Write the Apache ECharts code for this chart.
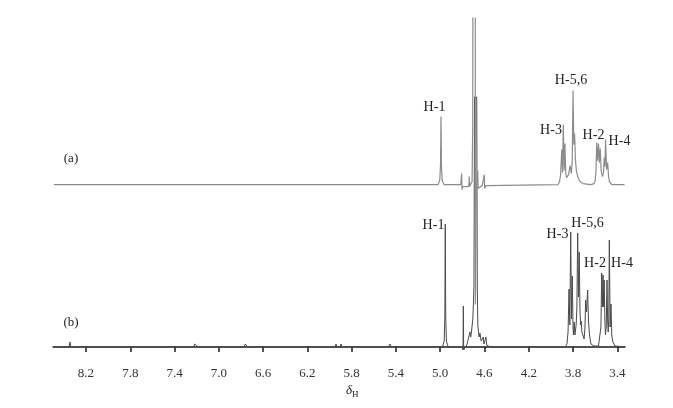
<!DOCTYPE html>
<html>
<head>
<meta charset="utf-8">
<script src="https://cdn.jsdelivr.net/npm/echarts@6/dist/echarts.min.js"></script>
<style>
    html, body { margin: 0; padding: 0; background: #fff; }
    #chart { width: 673px; height: 408px; }
</style>
</head>
<body>
<div id="chart"></div>
<script>
// chemical shift (ppm) and intensity, trace (a)
const specA_ppm = [8.49, 5.020, 5.004, 4.997, 4.993, 4.989, 4.982, 4.966,
    4.815, 4.809, 4.806, 4.803, 4.796, 4.745, 4.740, 4.737, 4.734, 4.718,
    4.712, 4.706, 4.703, 4.684, 4.682, 4.678, 4.672, 4.664, 4.661, 4.657,
    4.620, 4.605, 4.602, 4.598, 4.588, 4.570,
    3.935, 3.922, 3.912, 3.902, 3.895, 3.888, 3.880, 3.873, 3.866, 3.858,
    3.840, 3.827, 3.815, 3.807, 3.800, 3.793, 3.786, 3.778, 3.770, 3.755, 3.737, 3.710,
    3.640, 3.610, 3.600, 3.592, 3.586, 3.578, 3.570, 3.562, 3.554, 3.546, 3.534,
    3.525, 3.518, 3.512, 3.506, 3.497, 3.487, 3.479, 3.471, 3.450, 3.335];
const specA_int = [0, 0, 4, 20, 68, 20, 4, 0,
    0, 2, 11, -5, -2, -2, 1, 8, -2, 0,
    3, 60, 400, 400, -120, -40, 2, 3, 14, -4,
    -1, 1, 10, -4, -1, 0,
    0, 3, 10, 35, 12, 60, 14, 41, 12, 7,
    10, 19, 11, 25, 94, 40, 51, 25, 14, 7, 3, 1,
    0, 1, 4, 15, 42, 24, 41, 22, 36, 14, 8,
    12, 27, 18, 45, 15, 22, 8, 3, 0, 0];

// trace (b)
const specB_ppm = [8.49, 8.352, 8.345, 8.338, 7.228, 7.218, 7.210, 7.200, 7.190,
    6.772, 6.762, 6.755, 6.747, 6.738, 5.950, 5.941, 5.932, 5.905, 5.896, 5.887,
    5.468, 5.454, 5.440,
    4.980, 4.964, 4.958, 4.954, 4.950, 4.944, 4.928,
    4.800, 4.794, 4.791, 4.788, 4.775, 4.760, 4.745, 4.731, 4.724, 4.716, 4.705,
    4.695, 4.690, 4.670, 4.665, 4.660, 4.656, 4.648, 4.641, 4.630, 4.618, 4.611,
    4.605, 4.592, 4.587, 4.580, 4.550,
    3.870, 3.855, 3.845, 3.836, 3.829, 3.821, 3.814, 3.807, 3.800, 3.796, 3.789, 3.783,
    3.772, 3.765, 3.758, 3.751, 3.744, 3.737, 3.731, 3.727, 3.720, 3.714, 3.700,
    3.692, 3.686, 3.678, 3.668, 3.660, 3.651, 3.638, 3.611,
    3.570, 3.556, 3.548, 3.541, 3.535, 3.529, 3.524, 3.518, 3.512, 3.507,
    3.500, 3.493, 3.487, 3.482, 3.477, 3.472, 3.465, 3.457, 3.450, 3.443, 3.421, 3.335];
const specB_int = [0, 0, 5, 0, 0, 3, 5, 3, 0,
    0, 3, 5, 2, 0, 0, 3, 0, 0, 3, 0,
    0, 3, 0,
    0, 6, 30, 123, 30, 6, 0,
    0, -3, 41, -3, -2, 2, 4, 15, 10, 17, 28,
    60, 250, 250, 60, 22, 17, 10, 14, 6, 5, 10,
    3, 4, 10, 2, 0,
    0, 3, 15, 58, 22, 115, 28, 71, 20, 12, 25, 12,
    22, 40, 114, 50, 95, 35, 22, 26, 15, 17, 8,
    20, 47, 35, 57, 25, 12, 3, 1,
    1, 3, 20, 74, 40, 72, 40, 67, 25, 12,
    20, 67, 25, 15, 30, 107, 20, 43, 12, 6, 1, 0];

const tickLabels = [8.2, 7.8, 7.4, 7.0, 6.6, 6.2, 5.8, 5.4, 5.0, 4.6, 4.2, 3.8, 3.4];
const peakLabels = ['H-1', 'H-3', 'H-5,6', 'H-2', 'H-4'];
const traceNames = ['(a)', '(b)'];

// vertical offset of trace (a) above trace (b)
const offsetA = 162.4;

const chart = echarts.init(document.getElementById('chart'));

function pairs(ppm, inten, shift) {
    return ppm.map((p, i) => [p, inten[i] + shift]);
}

const serif = '"Liberation Serif", "DejaVu Serif", serif';

// label anchors (pixel centres) for the peak names
const labelPosA = [[434.5, 107], [551, 130], [571, 80], [593.5, 135], [619.5, 141.5]];
const labelPosB = [[433.5, 225.5], [557.5, 234], [587.5, 223], [595, 263], [622, 263]];

const graphics = [];
peakLabels.forEach((t, i) => {
    graphics.push({type: 'text', x: labelPosA[i][0], y: labelPosA[i][1],
        style: {text: t, font: '14px ' + serif, fill: '#222', align: 'center', verticalAlign: 'middle'}});
    graphics.push({type: 'text', x: labelPosB[i][0], y: labelPosB[i][1],
        style: {text: t, font: '14px ' + serif, fill: '#222', align: 'center', verticalAlign: 'middle'}});
});
graphics.push({type: 'text', x: 71, y: 159,
    style: {text: traceNames[0], font: '13px ' + serif, fill: '#222', align: 'center', verticalAlign: 'middle'}});
graphics.push({type: 'text', x: 71, y: 322.5,
    style: {text: traceNames[1], font: '13px ' + serif, fill: '#222', align: 'center', verticalAlign: 'middle'}});
graphics.push({type: 'text', x: 346, y: 391,
    style: {
        text: '{d|δ}{s|H}',
        verticalAlign: 'middle',
        rich: {
            d: {font: 'italic 13px ' + serif, fill: '#222'},
            s: {font: '9px ' + serif, fill: '#222', padding: [7, 0, 0, 0]}
        }
    }});

chart.setOption({
    animation: false,
    backgroundColor: '#fff',
    grid: {left: 53, right: 48, top: 18, bottom: 50, outerBoundsMode: 'none'},
    xAxis: {
        type: 'value',
        inverse: true,
        min: 3.3305,
        max: 8.498,
        splitLine: {show: false},
        axisLine: {lineStyle: {color: '#1a1a1a', width: 1.5}},
        axisTick: {customValues: tickLabels, length: 5, lineStyle: {color: '#1a1a1a', width: 1.5}},
        axisLabel: {
            customValues: tickLabels,
            margin: 9,
            color: '#333',
            fontFamily: serif,
            fontSize: 13,
            formatter: v => v.toFixed(1)
        }
    },
    yAxis: {
        type: 'value',
        show: false,
        min: -11,
        max: 329
    },
    series: [
        {
            name: traceNames[1],
            type: 'line',
            showSymbol: false,
            clip: true,
            data: pairs(specB_ppm, specB_int, 0),
            lineStyle: {color: '#4a4a4a', width: 1}
        },
        {
            name: traceNames[0],
            type: 'line',
            showSymbol: false,
            clip: true,
            data: pairs(specA_ppm, specA_int, offsetA),
            lineStyle: {color: '#8c8c8c', width: 1.2}
        }
    ],
    graphic: graphics
});
</script>
</body>
</html>
